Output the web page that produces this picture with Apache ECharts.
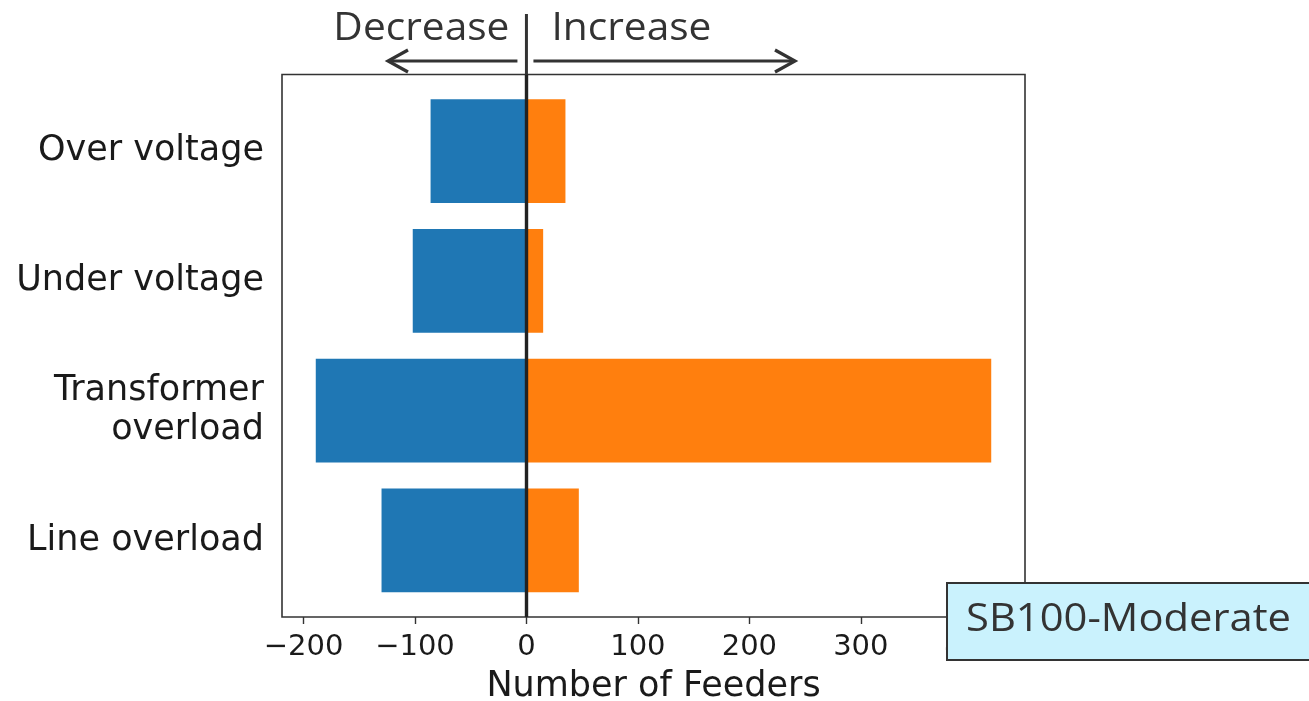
<!DOCTYPE html>
<html>
<head>
<meta charset="utf-8">
<title>Number of Feeders</title>
<script src="https://cdn.jsdelivr.net/npm/echarts@6/dist/echarts.min.js"></script>
<style>
  html, body { margin: 0; padding: 0; background: #ffffff; }
  #chart { width: 1309px; height: 701px; }
</style>
</head>
<body>
<div id="chart"></div>
<script>
// Violation categories, top to bottom
const categories = ['Over voltage', 'Under voltage', 'Transformer\noverload', 'Line overload'];
// Feeders where violations went down (negative) or up (positive)
const decreaseValues = [-86, -102, -189, -130];
const increaseValues = [35, 15, 417, 47];
// Tick values shown on the horizontal axis
const xTicks = [-200, -100, 0, 100, 200, 300, 400];

const ink = '#1a1a1a';
const frameColor = '#333333';
const noteColor = '#333333';

// 5% padding on both ends of the data extent
const allVals = decreaseValues.concat(increaseValues);
const dMin = Math.min.apply(null, allVals);
const dMax = Math.max.apply(null, allVals);
const pad = (dMax - dMin) * 0.05;
const xMin = dMin - pad;
const xMax = dMax + pad;

const minusFmt = v => String(v).replace('-', '\u2212');

const chart = echarts.init(document.getElementById('chart'), null, { renderer: 'canvas' });

// plot frame
const frame = { left: 282, top: 74.5, width: 743, height: 542.5 };
// bar band area: 0.09 of a category of extra room above and below
const band = frame.height / 4.18;
const inner = { left: frame.left, width: frame.width, top: frame.top + 0.09 * band, height: 4 * band };

const option = {
  animation: false,
  backgroundColor: '#ffffff',
  textStyle: { fontFamily: 'DejaVu Sans' },
  grid: [
    { left: frame.left, top: frame.top, width: frame.width, height: frame.height,
      outerBoundsMode: 'none', containLabel: false,
      show: true, borderColor: frameColor, borderWidth: 1.6, backgroundColor: 'transparent' },
    { left: inner.left, top: inner.top, width: inner.width, height: inner.height,
      outerBoundsMode: 'none', containLabel: false }
  ],
  xAxis: [
    {
      gridIndex: 0, type: 'value', min: xMin, max: xMax,
      splitLine: { show: false },
      axisLine: { show: false },
      axisTick: { show: true, length: 7, lineStyle: { color: frameColor, width: 1.4 }, customValues: xTicks },
      axisLabel: { show: true, customValues: xTicks, formatter: minusFmt, fontSize: 29, color: ink, margin: 16, fontFamily: 'DejaVu Sans' },
      name: 'Number of Feeders', nameLocation: 'middle', nameGap: 52,
      nameTextStyle: { fontSize: 35, color: ink, fontFamily: 'DejaVu Sans' }
    },
    { gridIndex: 1, type: 'value', min: xMin, max: xMax, show: false, splitLine: { show: false } }
  ],
  yAxis: [
    { gridIndex: 0, type: 'value', min: 0, max: 1, show: false, splitLine: { show: false } },
    {
      gridIndex: 1, type: 'category', data: categories, inverse: true,
      axisLine: { show: false },
      axisTick: { show: true, alignWithLabel: true, length: 7, lineStyle: { color: frameColor, width: 1.4 } },
      axisLabel: { fontSize: 35, color: ink, margin: 18, lineHeight: 39, padding: [4, 0, 0, 0], fontFamily: 'DejaVu Sans' },
      splitLine: { show: false }
    }
  ],
  series: [
    {
      name: 'Decrease', type: 'bar', xAxisIndex: 1, yAxisIndex: 1,
      data: decreaseValues, barWidth: '80%', barGap: '-100%',
      itemStyle: { color: '#1f77b4' }, z: 2
    },
    {
      name: 'Increase', type: 'bar', xAxisIndex: 1, yAxisIndex: 1,
      data: increaseValues, barWidth: '80%', barGap: '-100%',
      itemStyle: { color: '#ff7f0e' }, z: 2
    },
    {
      // zero reference line across the full plot height
      type: 'scatter', xAxisIndex: 0, yAxisIndex: 0, data: [], silent: true, z: 5,
      markLine: {
        silent: true, symbol: 'none', animation: false,
        label: { show: false },
        lineStyle: { color: '#222222', width: 3.4, type: 'solid' },
        data: [{ xAxis: 0 }]
      }
    }
  ]
};

chart.setOption(option);

// Direction note above the plot and the scenario tag
const zeroX = chart.convertToPixel({ xAxisIndex: 0 }, 0);
const arrowY = 61;
const headLen = 20, headHalf = 11;
const leftTip = 388, rightTip = 795;
const noteFont = '38px "Open Sans"';

chart.setOption({
  graphic: [
    { type: 'line', shape: { x1: zeroX, y1: 14, x2: zeroX, y2: frame.top }, style: { stroke: noteColor, lineWidth: 3 }, z: 10 },
    { type: 'line', shape: { x1: zeroX - 9, y1: arrowY, x2: leftTip + 1, y2: arrowY }, style: { stroke: noteColor, lineWidth: 3.2 }, z: 10 },
    { type: 'polyline', shape: { points: [[leftTip + headLen, arrowY - headHalf], [leftTip, arrowY], [leftTip + headLen, arrowY + headHalf]] },
      style: { stroke: noteColor, lineWidth: 3.2, fill: null }, z: 10 },
    { type: 'line', shape: { x1: zeroX + 7, y1: arrowY, x2: rightTip - 1, y2: arrowY }, style: { stroke: noteColor, lineWidth: 3.2 }, z: 10 },
    { type: 'polyline', shape: { points: [[rightTip - headLen, arrowY - headHalf], [rightTip, arrowY], [rightTip - headLen, arrowY + headHalf]] },
      style: { stroke: noteColor, lineWidth: 3.2, fill: null }, z: 10 },
    { type: 'text', x: zeroX - 17, y: 29, scaleX: 1.07, style: { text: 'Decrease', fill: noteColor, font: noteFont, textAlign: 'right', textVerticalAlign: 'middle' }, z: 10 },
    { type: 'text', x: zeroX + 25, y: 29, scaleX: 1.07, style: { text: 'Increase', fill: noteColor, font: noteFont, textAlign: 'left', textVerticalAlign: 'middle' }, z: 10 },
    { type: 'rect', shape: { x: 947, y: 583, width: 370, height: 77 }, style: { fill: '#caf2fd', stroke: noteColor, lineWidth: 2 }, z: 20 },
    { type: 'text', x: 966, y: 620, scaleX: 1.07, style: { text: 'SB100-Moderate', fill: noteColor, font: '39px "Open Sans"', textAlign: 'left', textVerticalAlign: 'middle' }, z: 21 }
  ]
});
</script>
</body>
</html>
